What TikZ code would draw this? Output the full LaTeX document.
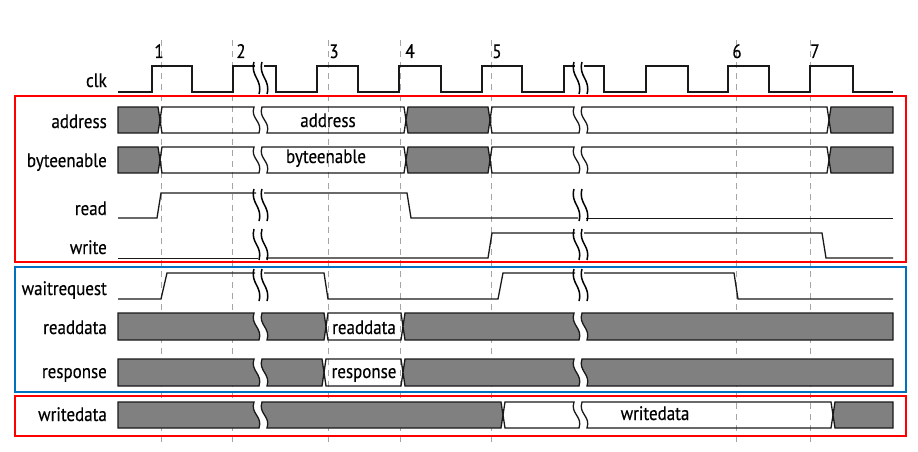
\documentclass[tikz,border=0pt]{standalone}
\usepackage{fontspec}
\setmainfont{PT Sans}[FakeStretch=0.87,FakeBold=0.3]
\definecolor{busgray}{RGB}{128,128,128}
\definecolor{guidegray}{RGB}{165,165,165}
\definecolor{boxred}{RGB}{255,0,0}
\definecolor{boxblue}{RGB}{0,112,192}
\newcommand{\setrow}[2]{\def\rT{#1}\def\rB{#2}\pgfmathsetmacro\rM{(#1+#2)/2}\pgfmathsetmacro\rH{#2-#1}}
% left ends (path from bottom to top)
\newcommand{\Lsq}[1]{(#1,\rB) -- (#1,\rT)}
\newcommand{\Ltr}[1]{(#1+2,\rB) -- (#1,\rM) -- (#1+2,\rT)}
\newcommand{\Lbk}[1]{(#1+5,\rB) .. controls (#1+9,\rB-0.45*\rH) and (#1-4,\rT+0.45*\rH) .. (#1,\rT)}
% right ends (path from top to bottom)
\newcommand{\Rsq}[1]{-- (#1,\rT) -- (#1,\rB)}
\newcommand{\Rtr}[1]{-- (#1-2,\rT) -- (#1,\rM) -- (#1-2,\rB)}
\newcommand{\Rbk}[1]{-- (#1,\rT) .. controls (#1-4,\rT+0.45*\rH) and (#1+9,\rB-0.45*\rH) .. (#1+5,\rB)}
% break mark pair for line signals
\newcommand{\brkpair}[3]{%
  \draw[brk] (#1,#2) .. controls (#1-4,#2+0.45*#3-0.45*#2) and (#1+9,#3-0.45*#3+0.45*#2) .. (#1+5,#3);
  \draw[brk] (#1+8,#2) .. controls (#1+4,#2+0.45*#3-0.45*#2) and (#1+17,#3-0.45*#3+0.45*#2) .. (#1+13,#3);}
\tikzset{
  sig/.style={line width=1.3pt, black!90, line join=miter},
  flat/.style={sig, line width=1pt},
  busg/.style={sig, fill=busgray},
  busw/.style={sig},
  brk/.style={line width=1.5pt, black},
  guide/.style={guidegray, line width=1pt, dash pattern=on 6pt off 5pt},
  redbox/.style={draw=boxred, line width=2pt},
  bluebox/.style={draw=boxblue, line width=2pt},
  lbl/.style={anchor=base east, inner sep=0pt, font=\fontsize{19.5}{22}\selectfont},
  num/.style={anchor=base, inner sep=0pt, font=\fontsize{19.5}{22}\selectfont},
  btxt/.style={anchor=base, inner sep=0pt, font=\fontsize{19.5}{22}\selectfont}
}
\begin{document}
\begin{tikzpicture}[x=1pt,y=-1pt]
\useasboundingbox (0,0) rectangle (918,452);
% guides
\foreach \gx/\nm in {161/g1,232/g2,328/g3,400/g4,491/g5,736/g6,810/g7}{
  \coordinate (\nm t) at (\gx,40);
  \coordinate (\nm b) at (\gx,445);
  \draw[guide] (\nm t) -- (\nm b);
}
% numbers
\node[num] (n1) at (159,58) {1};
\node[num] (n2) at (241,58) {2};
\node[num] (n3) at (334,58) {3};
\node[num] (n4) at (410,58) {4};
\node[num] (n5) at (497,58) {5};
\node[num] (n6) at (737,58) {6};
\node[num] (n7) at (815,58) {7};
% labels
\node[lbl] (lclk) at (107,87) {clk};
\node[lbl] (laddr) at (107,128) {address};
\node[lbl] (lbe) at (107,167) {byteenable};
\node[lbl] (lrd) at (107,215) {read};
\node[lbl] (lwr) at (107,254) {write};
\node[lbl] (lwait) at (107,295) {waitrequest};
\node[lbl] (lrdd) at (107,334) {readdata};
\node[lbl] (lresp) at (107,378) {response};
\node[lbl] (lwrd) at (107,421) {writedata};
% boxes
\draw[redbox] (15,96) rectangle (906,262);
\draw[bluebox] (15,267) rectangle (906,392);
\draw[redbox] (15,396) rectangle (906,436);
% clk
\draw[sig] (118,92) -- (152,92) -- (152,66) -- (192,66) -- (192,92) -- (233,92) -- (233,66) -- (255,66);
\draw[sig] (264,66) -- (276,66) -- (276,92) -- (317,92) -- (317,66) -- (358,66) -- (358,92) -- (399,92) -- (399,66) -- (441,66) -- (441,92) -- (482,92) -- (482,66) -- (522,66) -- (522,92) -- (564,92) -- (564,66) -- (575,66);
\draw[sig] (584,66) -- (604,66) -- (604,92) -- (646,92) -- (646,66) -- (688,66) -- (688,92) -- (728,92) -- (728,66) -- (769,66) -- (769,92) -- (810,92) -- (810,66) -- (853,66) -- (853,92) -- (893,92);
\brkpair{254}{62}{94}
\brkpair{574}{62}{94}
% address
\setrow{107}{133}
\draw[busg] \Lsq{118} \Rtr{160} -- cycle;
\draw[busw] \Ltr{160} \Rbk{254} -- cycle;
\draw[busw] \Lbk{262} \Rtr{406} -- cycle;
\draw[busg] \Ltr{406} \Rtr{490} -- cycle;
\draw[busw] \Ltr{490} \Rbk{574} -- cycle;
\draw[busw] \Lbk{582} \Rtr{829} -- cycle;
\draw[busg] \Ltr{829} \Rsq{893} -- cycle;
\node[btxt] (taddr) at (328,127) {address};
% byteenable
\setrow{147}{173}
\draw[busg] \Lsq{118} \Rtr{160} -- cycle;
\draw[busw] \Ltr{160} \Rbk{254} -- cycle;
\draw[busw] \Lbk{262} \Rtr{406} -- cycle;
\draw[busg] \Ltr{406} \Rtr{490} -- cycle;
\draw[busw] \Ltr{490} \Rbk{574} -- cycle;
\draw[busw] \Lbk{582} \Rtr{829} -- cycle;
\draw[busg] \Ltr{829} \Rsq{893} -- cycle;
\node[btxt] (tbe) at (326,163) {byteenable};
% read
\draw[sig] (118,218) -- (157,218) -- (161,193) -- (256,193);
\draw[sig] (264,193) -- (407,193) -- (411,218) -- (578,218);
\draw[flat] (586,218) -- (893,218);
\brkpair{254}{189}{221}
\brkpair{574}{189}{221}
% write
\draw[flat] (118,258) -- (258,258);
\draw[sig] (266,258) -- (488,258) -- (492,233) -- (575,233);
\draw[sig] (584,233) -- (822,233) -- (826,258) -- (893,258);
\brkpair{254}{229}{260}
\brkpair{574}{229}{260}
% waitrequest
\draw[sig] (118,299) -- (161,299) -- (167,273) -- (255,273);
\draw[sig] (264,273) -- (324,273) -- (328,299) -- (498,299) -- (503,273) -- (575,273);
\draw[sig] (584,273) -- (734,273) -- (738,299) -- (893,299);
\brkpair{254}{269}{301}
\brkpair{574}{269}{301}
% readdata
\setrow{313}{340}
\draw[busg] \Lsq{118} \Rbk{254} -- cycle;
\draw[busg] \Lbk{262} \Rtr{326} -- cycle;
\draw[busw] \Ltr{326} \Rtr{403} -- cycle;
\draw[busg] \Ltr{403} \Rbk{574} -- cycle;
\draw[busg] \Lbk{582} \Rsq{893} -- cycle;
\node[btxt] (trdd) at (364,334) {readdata};
% response
\setrow{359}{386}
\draw[busg] \Lsq{118} \Rbk{254} -- cycle;
\draw[busg] \Lbk{262} \Rtr{324} -- cycle;
\draw[busw] \Ltr{324} \Rtr{403} -- cycle;
\draw[busg] \Ltr{403} \Rbk{574} -- cycle;
\draw[busg] \Lbk{582} \Rsq{893} -- cycle;
\node[btxt] (tresp) at (364,378) {response};
% writedata
\setrow{402}{428}
\draw[busg] \Lsq{118} \Rbk{254} -- cycle;
\draw[busg] \Lbk{262} \Rtr{503} -- cycle;
\draw[busw] \Ltr{503} \Rbk{574} -- cycle;
\draw[busw] \Lbk{582} \Rtr{833} -- cycle;
\draw[busg] \Ltr{833} \Rsq{893} -- cycle;
\node[btxt] (twrd) at (655,420) {writedata};
\end{tikzpicture}
\end{document}
